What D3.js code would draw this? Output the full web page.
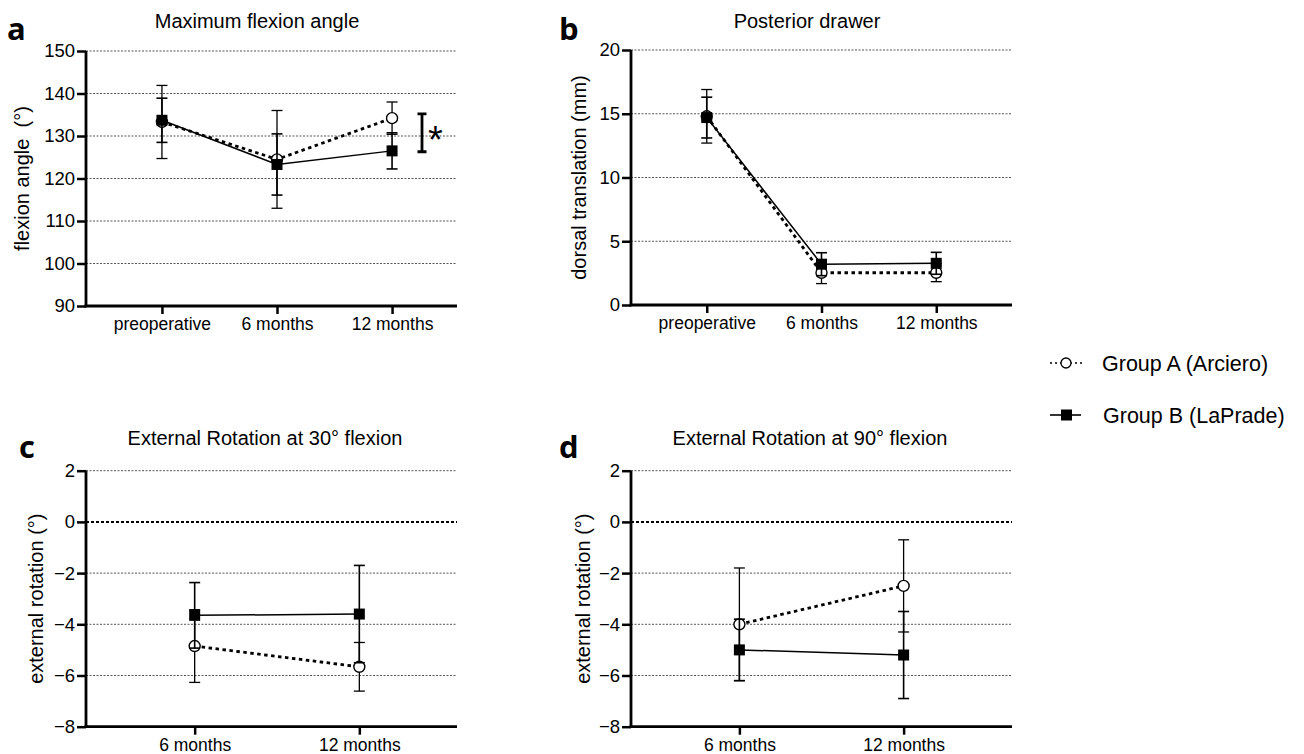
<!DOCTYPE html>
<html><head><meta charset="utf-8">
<script src="https://cdn.jsdelivr.net/npm/d3@7"></script>
<style>
body{margin:0;background:#fff;}
svg{display:block;font-family:"Liberation Sans",Arial,sans-serif;}
</style></head>
<body>
<svg id="chart" width="1304" height="754"></svg>
<script>
// ---------- data ----------
const catsPre = ["preoperative", "6 months", "12 months"];
const catsPost = ["6 months", "12 months"];

const flexTicks = [90, 100, 110, 120, 130, 140, 150];
const flexA_mean = [133.3, 124.5, 134.2];
const flexA_sd   = [8.6, 11.5, 3.8];
const flexB_mean = [133.7, 123.3, 126.5];
const flexB_sd   = [5.2, 7.2, 4.25];

const drawerTicks = [0, 5, 10, 15, 20];
const drawerA_mean = [14.8, 2.53, 2.53];
const drawerA_sd   = [2.1, 0.85, 0.7];
const drawerB_mean = [14.7, 3.2, 3.27];
const drawerB_sd   = [1.6, 0.9, 0.86];

const erTicks = [-8, -6, -4, -2, 0, 2];
const er30A_mean = [-4.85, -5.66];
const er30A_sd   = [1.42, 0.95];
const er30B_mean = [-3.65, -3.6];
const er30B_sd   = [1.28, 1.9];

const er90A_mean = [-4.0, -2.5];
const er90A_sd   = [2.2, 1.8];
const er90B_mean = [-5.0, -5.2];
const er90B_sd   = [1.2, 1.7];

const legendLabels = ["Group A (Arciero)", "Group B (LaPrade)"];

// ---------- drawing ----------
const svg = d3.select("#chart");

function drawPanel(cfg) {
  const g = svg.append("g");
  const x = d3.scalePoint().domain(cfg.cats).range([cfg.x0, cfg.x1full]).padding(0.66);
  const y = d3.scaleLinear().domain([cfg.ticks[0], cfg.ticks[cfg.ticks.length - 1]]).range([cfg.yBottom, cfg.yTop]);
  const xEnd = cfg.x1;

  // gridlines
  cfg.ticks.slice(1).forEach(t => {
    const isZero = (t === 0 && cfg.zeroLine);
    g.append("line")
      .attr("x1", cfg.x0).attr("x2", xEnd)
      .attr("y1", y(t)).attr("y2", y(t))
      .attr("stroke", isZero ? "#000" : "#555")
      .attr("stroke-width", isZero ? 2 : 1)
      .attr("stroke-dasharray", isZero ? "3,2" : "2,1.5");
  });

  // y axis
  const ya = g.append("g").attr("transform", `translate(${cfg.x0},0)`)
    .call(d3.axisLeft(y).tickValues(cfg.ticks).tickSizeOuter(0).tickSize(9).tickPadding(2));
  ya.select(".domain").remove();
  ya.selectAll(".tick line").attr("stroke", "#000").attr("stroke-width", 2.5);
  ya.selectAll(".tick text").attr("font-size", 18.5).attr("fill", "#000")
    .attr("font-family", '"Liberation Sans",Arial,sans-serif');

  // x axis
  const xa = g.append("g").attr("transform", `translate(0,${cfg.yBottom})`)
    .call(d3.axisBottom(x).tickSizeOuter(0).tickSize(8).tickPadding(3.5));
  xa.select(".domain").remove();
  xa.selectAll(".tick line").attr("stroke", "#000").attr("stroke-width", 2.5);
  xa.selectAll(".tick text").attr("font-size", 17.5).attr("fill", "#000")
    .attr("font-family", '"Liberation Sans",Arial,sans-serif');

  // axis lines
  g.append("line").attr("x1", cfg.x0).attr("x2", cfg.x0)
    .attr("y1", cfg.yTop).attr("y2", cfg.yBottom + 1.25)
    .attr("stroke", "#000").attr("stroke-width", 2.8);
  g.append("line").attr("x1", cfg.x0 - 1.4).attr("x2", xEnd)
    .attr("y1", cfg.yBottom).attr("y2", cfg.yBottom)
    .attr("stroke", "#000").attr("stroke-width", 2.8);

  // series
  const series = [
    {mean: cfg.aMean, sd: cfg.aSd, type: "A"},
    {mean: cfg.bMean, sd: cfg.bSd, type: "B"}
  ];
  series.forEach(s => {
    const pts = cfg.cats.map((c, i) => ({c, m: s.mean[i], e: s.sd[i]}));
    // error bars
    const eb = g.append("g");
    pts.forEach(p => {
      const cx = x(p.c);
      eb.append("line").attr("x1", cx).attr("x2", cx)
        .attr("y1", y(p.m + p.e)).attr("y2", y(p.m - p.e))
        .attr("stroke", "#000").attr("stroke-width", s.type === "A" ? 1.3 : 1.6);
      [p.m + p.e, p.m - p.e].forEach(v => {
        eb.append("line").attr("x1", cx - 5.5).attr("x2", cx + 5.5)
          .attr("y1", y(v)).attr("y2", y(v))
          .attr("stroke", "#000").attr("stroke-width", s.type === "A" ? 1.3 : 1.6);
      });
    });
    // line
    const line = d3.line().x(d => x(d.c)).y(d => y(d.m));
    g.append("path").datum(pts).attr("d", line).attr("fill", "none")
      .attr("stroke", "#000")
      .attr("stroke-width", s.type === "A" ? 2.8 : 1.5)
      .attr("stroke-dasharray", s.type === "A" ? "3.5,3.5" : null);
    // markers
    if (s.type === "A") {
      g.selectAll(null).data(pts).enter().append("circle")
        .attr("cx", d => x(d.c)).attr("cy", d => y(d.m)).attr("r", 5.5)
        .attr("fill", "#fff").attr("stroke", "#000").attr("stroke-width", 1.4);
    } else {
      g.selectAll(null).data(pts).enter().append("rect")
        .attr("x", d => x(d.c) - 5.5).attr("y", d => y(d.m) - 5.5)
        .attr("width", 11).attr("height", 11).attr("fill", "#000");
    }
  });

  // title
  g.append("text").attr("x", cfg.titleX).attr("y", cfg.titleY)
    .attr("text-anchor", "middle").attr("font-size", 20).text(cfg.title);
  // y label
  g.append("text")
    .attr("transform", `translate(${cfg.ylabX},${(cfg.yTop + cfg.yBottom) / 2}) rotate(-90)`)
    .attr("text-anchor", "middle").attr("dy", "0.35em").attr("font-size", 20)
    .text(cfg.ylab);
  // panel letter
  g.append("text").attr("x", cfg.letterX).attr("y", cfg.letterY)
    .attr("font-family", '"Open Sans",sans-serif').attr("font-weight", "bold")
    .attr("font-size", 31).text(cfg.letter);

  return {g, x, y};
}

const pa = drawPanel({
  cats: catsPre, ticks: flexTicks, aMean: flexA_mean, aSd: flexA_sd, bMean: flexB_mean, bSd: flexB_sd,
  x0: 86, x1: 457, x1full: 468, yTop: 51, yBottom: 306,
  title: "Maximum flexion angle", titleX: 257, titleY: 28,
  ylab: "flexion angle\u00a0 (°)", ylabX: 22, letter: "a", letterX: 7, letterY: 40
});
// significance bracket
{
  const bx = 422, top = pa.y(135.2), bot = pa.y(126.3);
  pa.g.append("path").attr("d", `M${bx - 4.5},${top}H${bx + 4.5}M${bx},${top}V${bot}M${bx - 4.5},${bot}H${bx + 4.5}`)
    .attr("stroke", "#000").attr("stroke-width", 2.8).attr("fill", "none");
  pa.g.append("text").attr("x", 428).attr("y", 153).attr("font-size", 38).text("*");
}

drawPanel({
  cats: catsPre, ticks: drawerTicks, aMean: drawerA_mean, aSd: drawerA_sd, bMean: drawerB_mean, bSd: drawerB_sd,
  x0: 631, x1: 1012, x1full: 1012, yTop: 50, yBottom: 305,
  title: "Posterior drawer", titleX: 807, titleY: 28,
  ylab: "dorsal translation (mm)", ylabX: 579, letter: "b", letterX: 559, letterY: 40
});

drawPanel({
  cats: catsPost, ticks: erTicks, aMean: er30A_mean, aSd: er30A_sd, bMean: er30B_mean, bSd: er30B_sd, zeroLine: true,
  x0: 86, x1: 457, x1full: 468, yTop: 470.7, yBottom: 726.7,
  title: "External Rotation at 30° flexion", titleX: 265, titleY: 445,
  ylab: "external rotation (°)", ylabX: 36, letter: "c", letterX: 19, letterY: 458
});

drawPanel({
  cats: catsPost, ticks: erTicks, aMean: er90A_mean, aSd: er90A_sd, bMean: er90B_mean, bSd: er90B_sd, zeroLine: true,
  x0: 631, x1: 1012, x1full: 1012, yTop: 470.7, yBottom: 726.7,
  title: "External Rotation at 90° flexion", titleX: 810, titleY: 445,
  ylab: "external rotation (°)", ylabX: 583, letter: "d", letterX: 559, letterY: 458
});

// legend
const lg = svg.append("g");
lg.append("line").attr("x1", 1050).attr("x2", 1082).attr("y1", 363).attr("y2", 363)
  .attr("stroke", "#000").attr("stroke-width", 1.3).attr("stroke-dasharray", "2,3");
lg.append("circle").attr("cx", 1066).attr("cy", 363).attr("r", 5)
  .attr("fill", "#fff").attr("stroke", "#000").attr("stroke-width", 1.3);
lg.append("text").attr("x", 1102).attr("y", 363).attr("dy", "0.36em").attr("font-size", 21.5).text(legendLabels[0]);
lg.append("line").attr("x1", 1050).attr("x2", 1081).attr("y1", 415).attr("y2", 415)
  .attr("stroke", "#000").attr("stroke-width", 1.6);
lg.append("rect").attr("x", 1061).attr("y", 409.5).attr("width", 11).attr("height", 11).attr("fill", "#000");
lg.append("text").attr("x", 1103).attr("y", 415).attr("dy", "0.36em").attr("font-size", 21.5).text(legendLabels[1]);
</script>
</body></html>
